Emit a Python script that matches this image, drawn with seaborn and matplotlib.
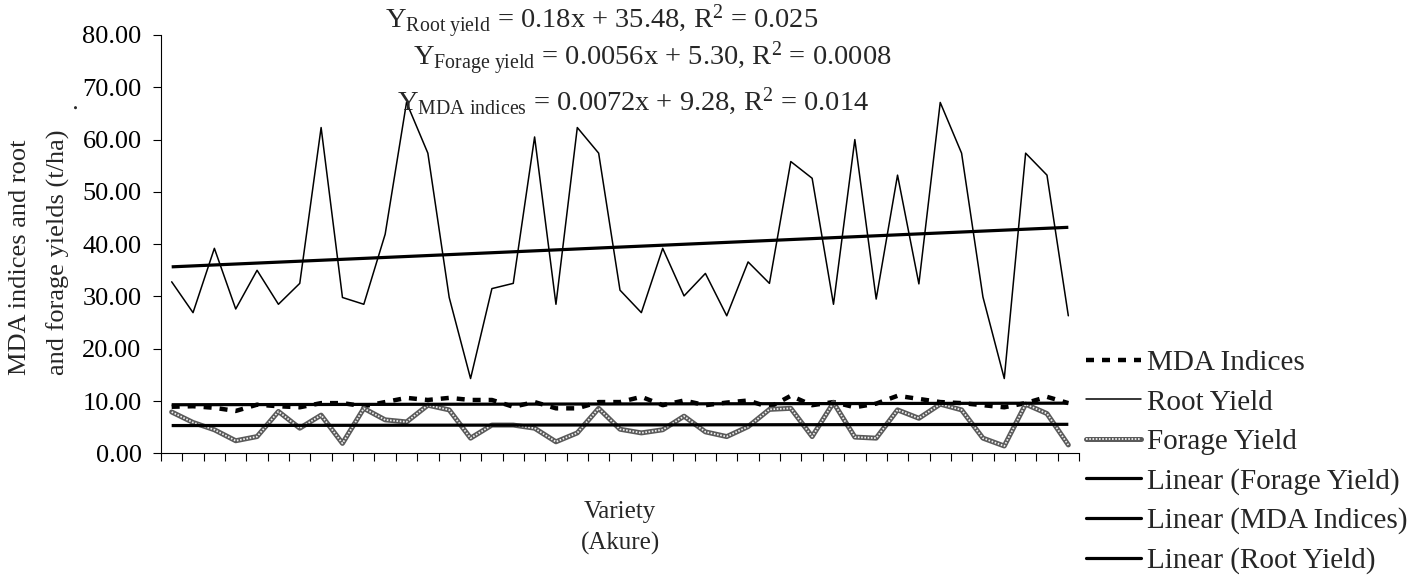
import numpy as np
import pandas as pd
import matplotlib
matplotlib.use("Agg")
import matplotlib.pyplot as plt
import seaborn as sns
from matplotlib.lines import Line2D
from matplotlib.legend_handler import HandlerTuple

# ---- data (43 varieties, Akure) ----
root_yield = [32.8, 26.9, 39.2, 27.6, 35.0, 28.5, 32.5, 62.3, 29.8, 28.5,
              41.9, 67.1, 57.4, 29.8, 14.3, 31.5, 32.5, 60.5, 28.5, 62.3,
              57.4, 31.2, 26.9, 39.2, 30.1, 34.4, 26.3, 36.6, 32.5, 55.8,
              52.6, 28.5, 60.0, 29.5, 53.2, 32.4, 67.1, 57.4, 29.9, 14.3,
              57.4, 53.2, 26.3]
forage_yield = [7.9, 5.9, 4.5, 2.4, 3.2, 8.0, 4.8, 7.3, 1.9, 8.6,
                6.4, 6.0, 9.2, 8.3, 2.9, 5.4, 5.4, 4.8, 2.2, 3.9,
                8.6, 4.6, 3.9, 4.5, 7.1, 4.1, 3.2, 5.1, 8.4, 8.6,
                3.2, 9.7, 3.1, 2.9, 8.3, 6.7, 9.4, 8.3, 2.9, 1.4,
                9.4, 7.6, 1.6]
mda_indices = [8.9, 9.0, 8.7, 8.1, 9.3, 9.0, 8.8, 9.6, 9.6, 9.0,
               9.8, 10.6, 10.2, 10.6, 10.2, 10.2, 8.9, 9.8, 8.6, 8.6,
               9.8, 9.8, 10.8, 9.2, 10.1, 9.2, 9.7, 10.1, 8.8, 11.0,
               9.2, 9.8, 8.8, 9.5, 11.0, 10.4, 9.8, 9.6, 9.2, 8.8,
               9.6, 10.8, 9.6]
variety = np.arange(1, len(root_yield) + 1)

# fitted trend lines (slope, intercept, R^2)
trend_root = (0.18, 35.48, "0.025")
trend_forage = (0.0056, 5.30, "0.0008")
trend_mda = (0.0072, 9.28, "0.014")

y_ticks = [0, 10, 20, 30, 40, 50, 60, 70, 80]

df = pd.DataFrame({"variety": variety, "root": root_yield,
                   "forage": forage_yield, "mda": mda_indices})

sns.set_theme(style="ticks")
plt.rcParams["font.family"] = ["Liberation Serif", "DejaVu Serif"]
plt.rcParams["mathtext.fontset"] = "custom"
plt.rcParams["mathtext.rm"] = "Liberation Serif"
plt.rcParams["mathtext.it"] = "Liberation Serif:italic"
plt.rcParams["mathtext.bf"] = "Liberation Serif:bold"

W, H = 1414, 585
fig = plt.figure(figsize=(W / 100, H / 100), dpi=100)
fig.patch.set_facecolor("white")

def fx(px):
    return px / W

def fy(py):
    return 1 - py / H

ax = fig.add_axes([fx(161), fy(453.3), fx(1079 - 161), (453.3 - 35) / H])
ax.set_facecolor("white")

lw_root = 1.1
lw_trend = 2.3
mda_style = dict(color="black", lw=3.2, linestyle=(0, (1.8, 1.8)))
forage_base = dict(color="#5a5a5a", lw=3.6)
forage_dots = dict(color="#f0f0f0", lw=1.3, linestyle=(0, (0.9, 0.9)))

sns.lineplot(data=df, x="variety", y="root", ax=ax, color="black", lw=lw_root)
sns.lineplot(data=df, x="variety", y="mda", ax=ax, **mda_style)
sns.lineplot(data=df, x="variety", y="forage", ax=ax, **forage_base)
sns.lineplot(data=df, x="variety", y="forage", ax=ax, **forage_dots)

for slope, intercept, _ in (trend_forage, trend_mda, trend_root):
    ax.plot(variety, slope * variety + intercept, color="black", lw=lw_trend,
            solid_capstyle="butt")

ax.set_xlim(0.5, len(variety) + 0.5)
ax.set_ylim(0, 80)
ax.set_yticks(y_ticks)
ax.set_yticklabels([f"{v:.2f}" for v in y_ticks])
ax.set_xticks(np.arange(0.5, len(variety) + 1, 1.0))
ax.set_xticklabels([])
ax.set_xlabel("")
ax.set_ylabel("")
ax.tick_params(axis="y", direction="out", length=6, width=0.8,
               labelsize=19, pad=8, colors="black")
ax.tick_params(axis="x", direction="out", length=6, width=0.8,
               labelbottom=False, colors="black")
for side in ("top", "right"):
    ax.spines[side].set_visible(False)
for side in ("left", "bottom"):
    ax.spines[side].set_color("black")
    ax.spines[side].set_linewidth(0.8)

# axis titles
fig.text(fx(20), fy(257), "MDA indices and root", rotation=90,
         ha="center", va="center", fontsize=19)
fig.text(fx(58), fy(252), "and forage yields (t/ha)", rotation=90,
         ha="center", va="center", fontsize=19)
fig.text(fx(70), fy(106), ".", rotation=90, ha="center", va="center",
         fontsize=19)
fig.text(fx(620), fy(528), "Variety\n(Akure)", ha="center", va="center",
         fontsize=18, linespacing=1.5)

# regression equations
def eq(name, trend):
    slope, intercept, r2 = trend
    return (r"$\mathrm{Y}_{\mathrm{" + name.replace(" ", r"\ ") + r"}}$"
            + f" = {slope:g}x + {intercept:.2f}, R" + r"$^{2}$" + f" = {r2}")

eq_size = 20.5
fig.text(fx(385), fy(29), eq("Root yield", trend_root), fontsize=eq_size,
         va="baseline")
fig.text(fx(413), fy(66), eq("Forage yield", trend_forage), fontsize=eq_size,
         va="baseline")
fig.text(fx(397), fy(110), eq("MDA indices", trend_mda), fontsize=eq_size,
         va="baseline")

# legend
h_mda = Line2D([], [], **mda_style)
h_root = Line2D([], [], color="black", lw=lw_root)
h_forage = (Line2D([], [], **forage_base), Line2D([], [], **forage_dots))
h_lin = Line2D([], [], color="black", lw=lw_trend)
handles = [h_mda, h_root, h_forage, h_lin, h_lin, h_lin]
labels = ["MDA Indices", "Root Yield", "Forage Yield",
          "Linear (Forage Yield)", "Linear (MDA Indices)", "Linear (Root Yield)"]
fig.legend(handles, labels, loc="upper left",
           bbox_to_anchor=(fx(1086), fy(350)), frameon=False, borderpad=0,
           borderaxespad=0, handlelength=1.9, handletextpad=0.2,
           labelspacing=0.44, fontsize=21,
           handler_map={tuple: HandlerTuple(ndivide=1, pad=0)})

fig.savefig("out.png", dpi=100, facecolor="white")
